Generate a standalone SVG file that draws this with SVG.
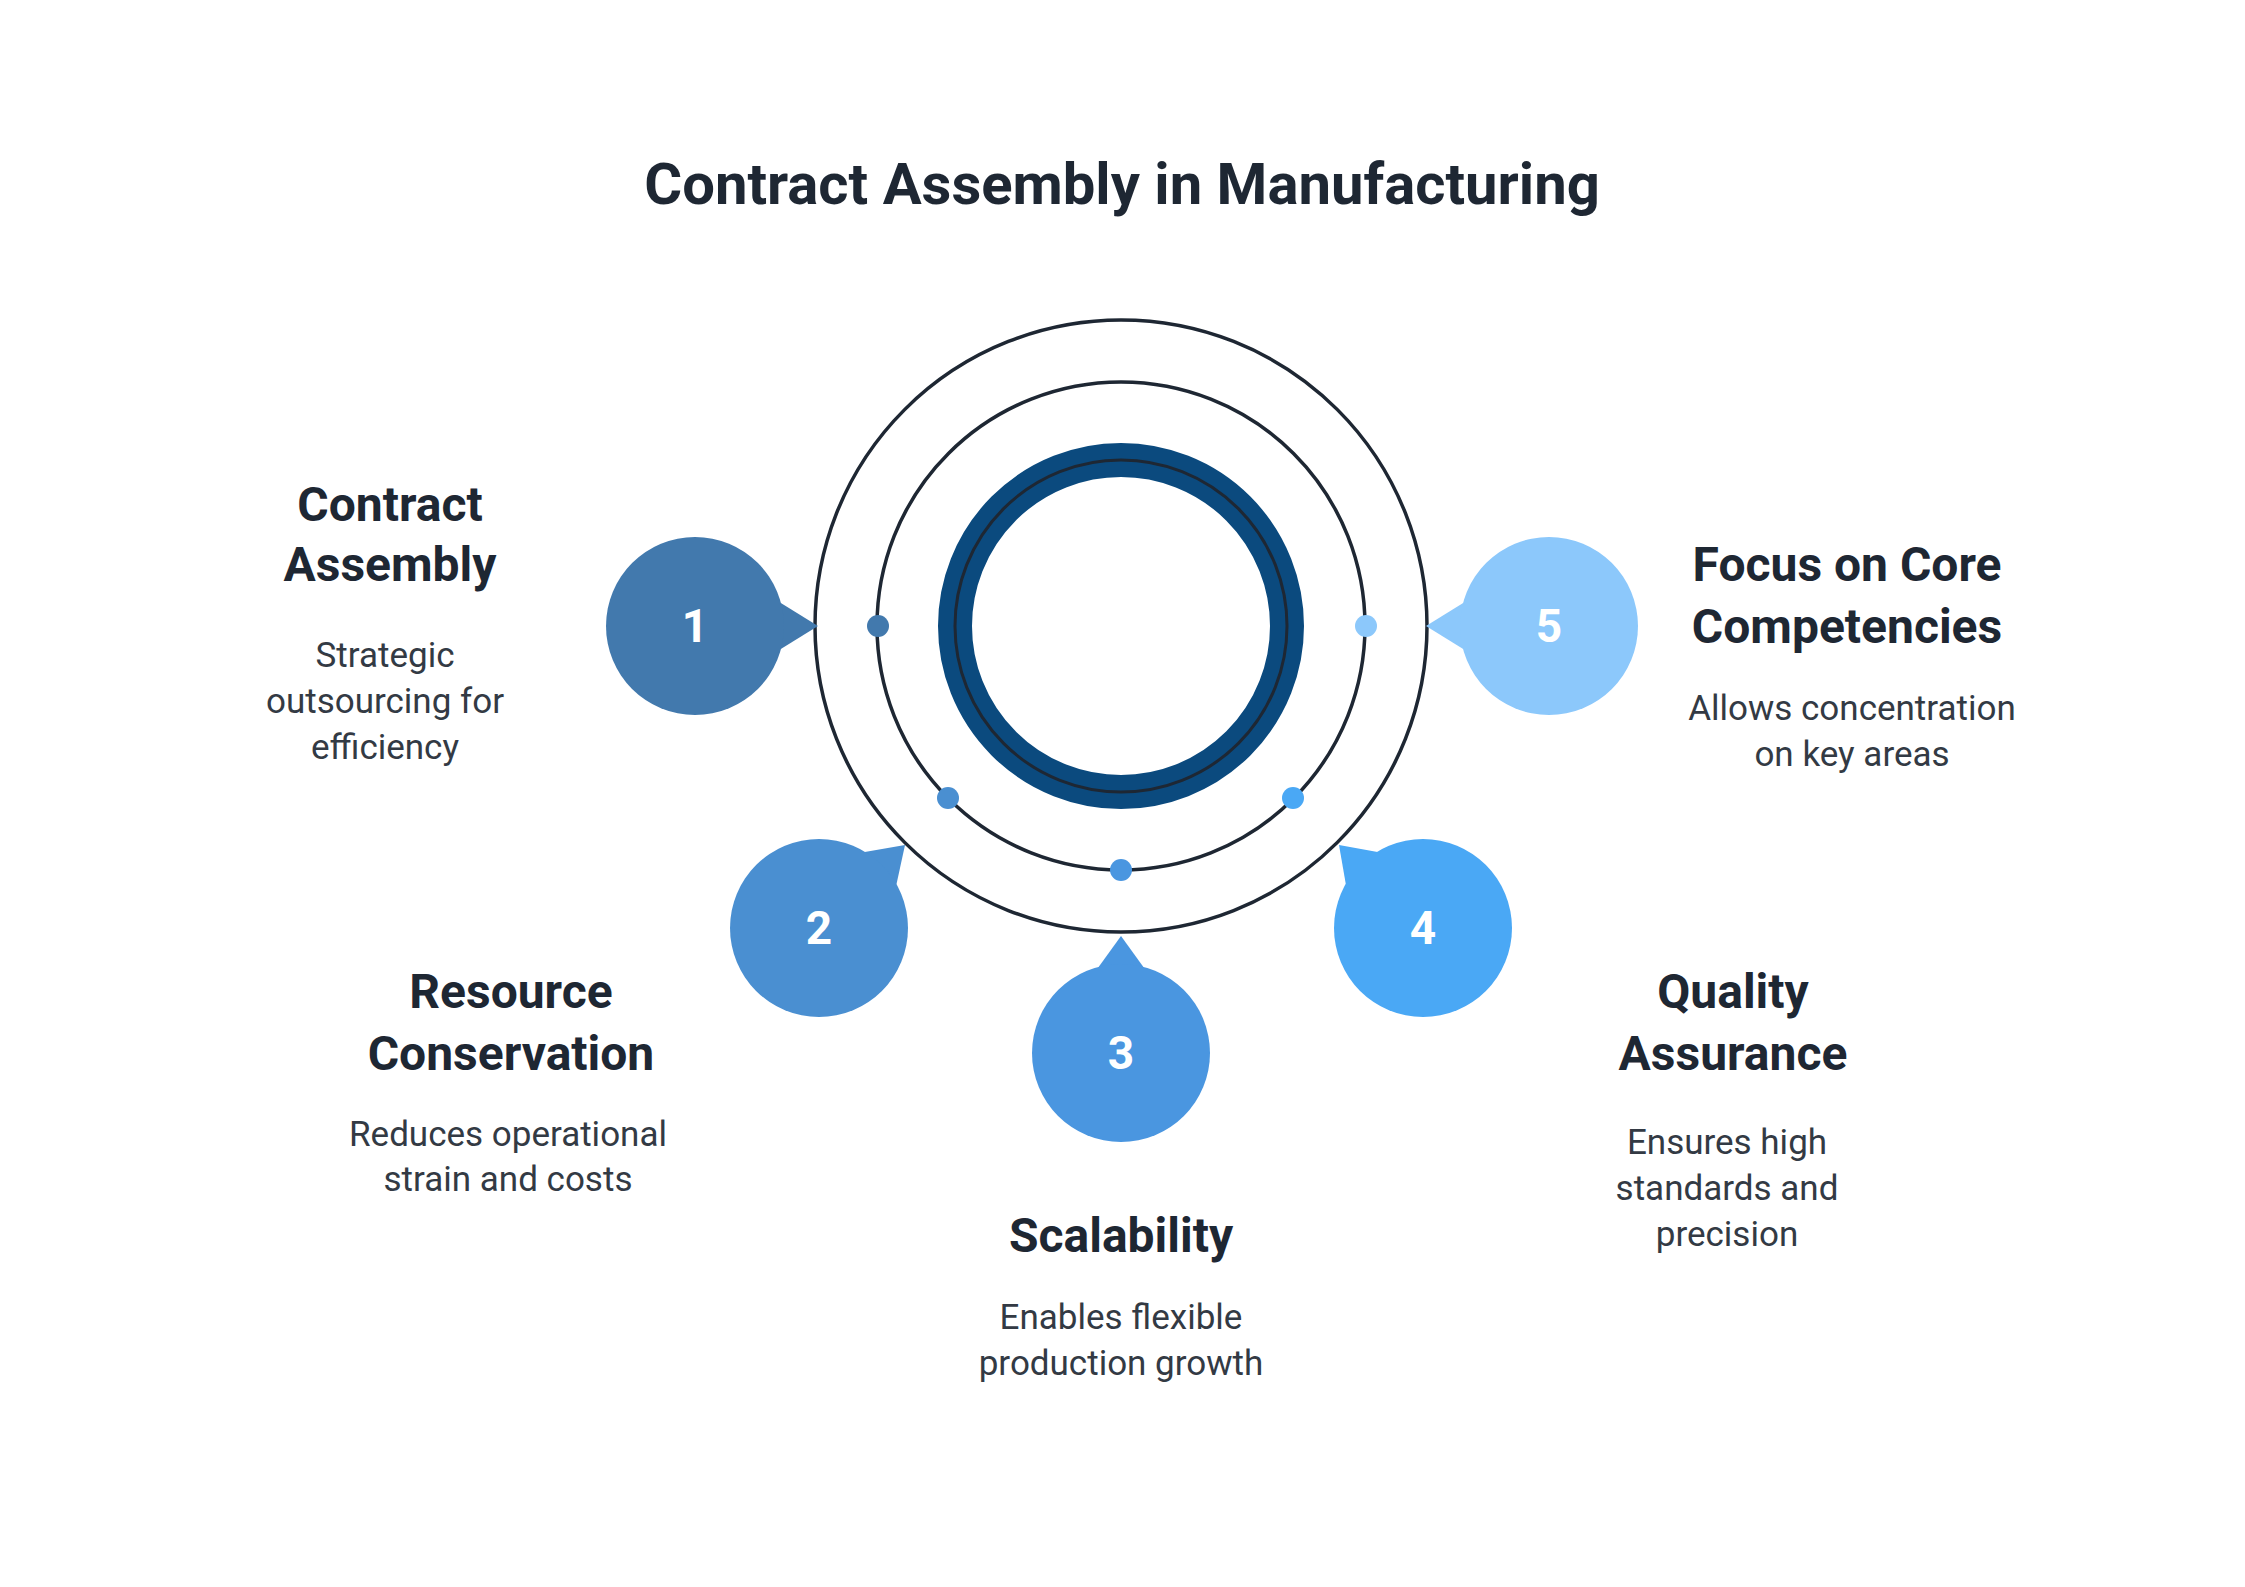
<svg xmlns="http://www.w3.org/2000/svg" width="2245" height="1587" viewBox="0 0 2245 1587">
<style>
.t{font-family:Roboto,"Liberation Sans",sans-serif;fill:#1e2733;text-anchor:middle}
.h{font-size:48px;font-weight:bold}
.b{font-size:35px;fill:#333a44}
.n{font-family:Roboto,"Liberation Sans",sans-serif;font-size:46px;font-weight:bold;fill:#fff;text-anchor:middle}
.ring{fill:none;stroke:#1e2733;stroke-width:3.5}
</style>
<rect width="2245" height="1587" fill="#fff"/>
<text class="t" x="1122" y="204" font-size="58" font-weight="bold">Contract Assembly in Manufacturing</text>
<g id="center">
<circle class="ring" cx="1121" cy="626" r="306"/>
<circle class="ring" cx="1121" cy="626" r="244"/>
<circle cx="1121" cy="626" r="166" fill="none" stroke="#0b4a7e" stroke-width="34"/>
<circle cx="1121" cy="626" r="166" fill="none" stroke="#1e2733" stroke-width="3"/>
</g>
<g id="connectors">
<circle cx="878" cy="626" r="11" fill="#4279ad"/>
<circle cx="948" cy="798" r="11" fill="#4a8fd1"/>
<circle cx="1121" cy="870" r="11" fill="#4a96e0"/>
<circle cx="1293" cy="798" r="11" fill="#4aa8f5"/>
<circle cx="1366" cy="626" r="11" fill="#8cc8fb"/>
</g>
<g id="n1">
<polygon points="776,600 818,626 776,652" fill="#4279ad"/>
<circle cx="695" cy="626" r="89" fill="#4279ad"/>
<text class="n" x="695" y="642">1</text>
<text class="t h" x="390" y="521">Contract</text>
<text class="t h" x="390" y="581">Assembly</text>
<text class="t b" x="385" y="667">Strategic</text>
<text class="t b" x="385" y="713">outsourcing for</text>
<text class="t b" x="385" y="759">efficiency</text>
</g>
<g id="n2">
<polygon points="895,891 905,845 859,853" fill="#4a8fd1"/>
<circle cx="819" cy="928" r="89" fill="#4a8fd1"/>
<text class="n" x="819" y="944">2</text>
<text class="t h" x="511" y="1008">Resource</text>
<text class="t h" x="511" y="1070">Conservation</text>
<text class="t b" x="508" y="1146">Reduces operational</text>
<text class="t b" x="508" y="1191">strain and costs</text>
</g>
<g id="n3">
<polygon points="1095,972 1121,936 1147,972" fill="#4a96e0"/>
<circle cx="1121" cy="1053" r="89" fill="#4a96e0"/>
<text class="n" x="1121" y="1069">3</text>
<text class="t h" x="1121" y="1252">Scalability</text>
<text class="t b" x="1121" y="1329">Enables flexible</text>
<text class="t b" x="1121" y="1375">production growth</text>
</g>
<g id="n4">
<polygon points="1383,853 1339,845 1347,891" fill="#4aa8f5"/>
<circle cx="1423" cy="928" r="89" fill="#4aa8f5"/>
<text class="n" x="1423" y="944">4</text>
<text class="t h" x="1733" y="1008">Quality</text>
<text class="t h" x="1733" y="1070">Assurance</text>
<text class="t b" x="1727" y="1154">Ensures high</text>
<text class="t b" x="1727" y="1200">standards and</text>
<text class="t b" x="1727" y="1246">precision</text>
</g>
<g id="n5">
<polygon points="1468,600 1426,626 1468,652" fill="#8cc8fb"/>
<circle cx="1549" cy="626" r="89" fill="#8cc8fb"/>
<text class="n" x="1549" y="642">5</text>
<text class="t h" x="1847" y="581">Focus on Core</text>
<text class="t h" x="1847" y="643">Competencies</text>
<text class="t b" x="1852" y="720">Allows concentration</text>
<text class="t b" x="1852" y="766">on key areas</text>
</g>
</svg>
